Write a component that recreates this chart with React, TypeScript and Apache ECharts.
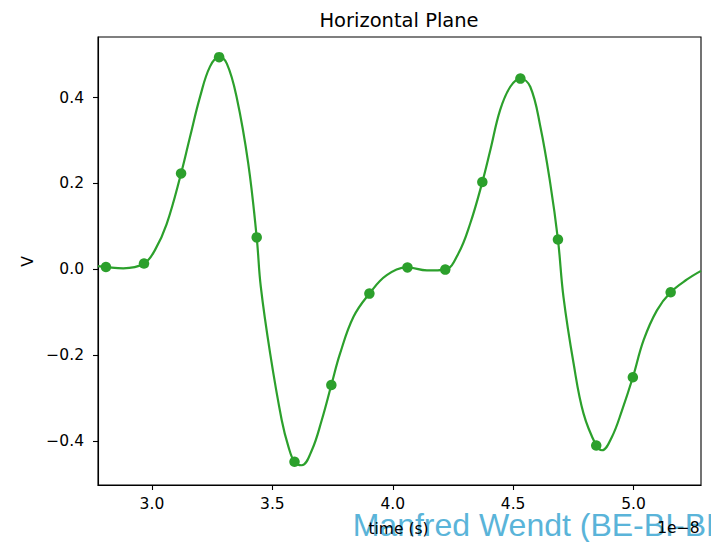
import React, { useEffect, useRef } from "react";
import * as echarts from "echarts";

// time axis in units of 1e-8 s
const xMin = 2.776;
const xMax = 5.28;
const yMin = -0.503;
const yMax = 0.541;

const xTicks = [3.0, 3.5, 4.0, 4.5, 5.0];
const yTicks = [-0.4, -0.2, 0.0, 0.2, 0.4];

// sampled points (markers)
const sampleT = [2.809, 2.967, 3.121, 3.279, 3.435, 3.592, 3.745, 3.903, 4.061, 4.218, 4.372, 4.53, 4.686, 4.845, 4.997, 5.154];
const sampleV = [0.005, 0.013, 0.223, 0.494, 0.074, -0.449, -0.27, -0.057, 0.004, -0.001, 0.203, 0.444, 0.069, -0.411, -0.252, -0.054];

// reconstructed smooth curve
const curveT = [
  2.776, 2.809, 2.881, 2.967, 3.013, 3.061, 3.121, 3.158, 3.2, 3.241, 3.279, 3.311, 3.352, 3.4, 3.435,
  3.452, 3.491, 3.539, 3.567, 3.592, 3.622, 3.664, 3.705, 3.745, 3.781, 3.837, 3.903, 3.975, 4.061,
  4.142, 4.218, 4.273, 4.322, 4.372, 4.405, 4.446, 4.488, 4.53, 4.571, 4.613, 4.654, 4.686, 4.709,
  4.751, 4.792, 4.845, 4.869, 4.91, 4.952, 4.997, 5.042, 5.097, 5.154, 5.222, 5.28,
];
const curveV = [
  0.007, 0.005, 0.002, 0.013, 0.045, 0.105, 0.223, 0.308, 0.402, 0.472, 0.494, 0.479, 0.4, 0.246, 0.074,
  -0.041, -0.197, -0.352, -0.414, -0.449, -0.457, -0.422, -0.352, -0.27, -0.197, -0.111, -0.057, -0.014, 0.004,
  -0.003, -0.001, 0.037, 0.107, 0.203, 0.277, 0.371, 0.425, 0.444, 0.425, 0.332, 0.2, 0.069, -0.065,
  -0.22, -0.336, -0.411, -0.422, -0.391, -0.329, -0.252, -0.165, -0.096, -0.054, -0.024, -0.004,
];

const GREEN = "#2ca02c";
const FONT = "DejaVu Sans";

function fmt(v: number): string {
  const s = Math.abs(v).toFixed(1);
  return v < -1e-9 ? "\u2212" + s : s;
}

export default function App() {
  const ref = useRef<HTMLDivElement>(null);
  useEffect(() => {
    if (!ref.current) return;
    const chart = echarts.init(ref.current, undefined, { renderer: "svg" });
    const axisCommon = {
      axisLine: { show: true, onZero: false, lineStyle: { color: "#000", width: 1.1 } },
      splitLine: { show: false },
    };
    chart.setOption({
      animation: false,
      backgroundColor: "#fff",
      grid: {
        left: 98,
        right: 10,
        top: 37,
        bottom: 57,
        show: true,
        borderColor: "#000",
        borderWidth: 1.1,
        backgroundColor: "transparent",
      },
      xAxis: {
        type: "value",
        min: xMin,
        max: xMax,
        ...axisCommon,
        axisTick: {
          show: true,
          inside: false,
          length: 5,
          lineStyle: { color: "#000", width: 1.1 },
          customValues: xTicks,
        },
        axisLabel: {
          show: true,
          customValues: xTicks,
          margin: 11,
          color: "#000",
          fontFamily: FONT,
          fontSize: 15.5,
          formatter: (v: number) => fmt(v),
        },
      },
      yAxis: {
        type: "value",
        min: yMin,
        max: yMax,
        ...axisCommon,
        axisTick: {
          show: true,
          inside: false,
          length: 5,
          lineStyle: { color: "#000", width: 1.1 },
          customValues: yTicks,
        },
        axisLabel: {
          show: true,
          customValues: yTicks,
          margin: 14,
          color: "#000",
          fontFamily: FONT,
          fontSize: 15.5,
          formatter: (v: number) => fmt(v),
        },
      },
      series: [
        {
          type: "line",
          data: curveT.map((t, i) => [t, curveV[i]]),
          smooth: 0.4,
          showSymbol: false,
          symbol: "none",
          lineStyle: { color: GREEN, width: 2.2 },
          itemStyle: { color: GREEN },
          clip: true,
          z: 2,
        },
        {
          type: "scatter",
          data: sampleT.map((t, i) => [t, sampleV[i]]),
          symbol: "circle",
          symbolSize: 10.5,
          itemStyle: { color: GREEN, opacity: 1 },
          z: 3,
        },
      ],
      graphic: [
        {
          type: "text",
          z: 1,
          style: {
            text: "Manfred Wendt (BE-BI-BP)",
            x: 352.7,
            y: 525,
            fill: "#5ab4d9",
            font: "32px 'Liberation Sans'",
            textAlign: "left",
            textVerticalAlign: "middle",
          },
        },
        {
          type: "text",
          z: 10,
          style: {
            text: "Horizontal Plane",
            x: 399,
            y: 20,
            fill: "#000",
            font: "19.5px 'DejaVu Sans'",
            textAlign: "center",
            textVerticalAlign: "middle",
          },
        },
        {
          type: "text",
          z: 10,
          style: {
            text: "time (s)",
            x: 398.5,
            y: 529,
            fill: "#000",
            font: "15.5px 'DejaVu Sans'",
            textAlign: "center",
            textVerticalAlign: "middle",
          },
        },
        {
          type: "text",
          z: 10,
          style: {
            text: "1e\u22128",
            x: 699.5,
            y: 528,
            fill: "#000",
            font: "15.5px 'DejaVu Sans'",
            textAlign: "right",
            textVerticalAlign: "middle",
          },
        },
        {
          type: "text",
          z: 10,
          x: 27.5,
          y: 261.5,
          rotation: Math.PI / 2,
          style: {
            text: "V",
            x: 0,
            y: 0,
            fill: "#000",
            font: "15.5px 'DejaVu Sans'",
            textAlign: "center",
            textVerticalAlign: "middle",
          },
        },
      ],
    });
    return () => chart.dispose();
  }, []);
  return (
    <div
      ref={ref}
      style={{ position: "absolute", left: 0, top: 0, width: 711, height: 542, overflow: "hidden" }}
    />
  );
}
